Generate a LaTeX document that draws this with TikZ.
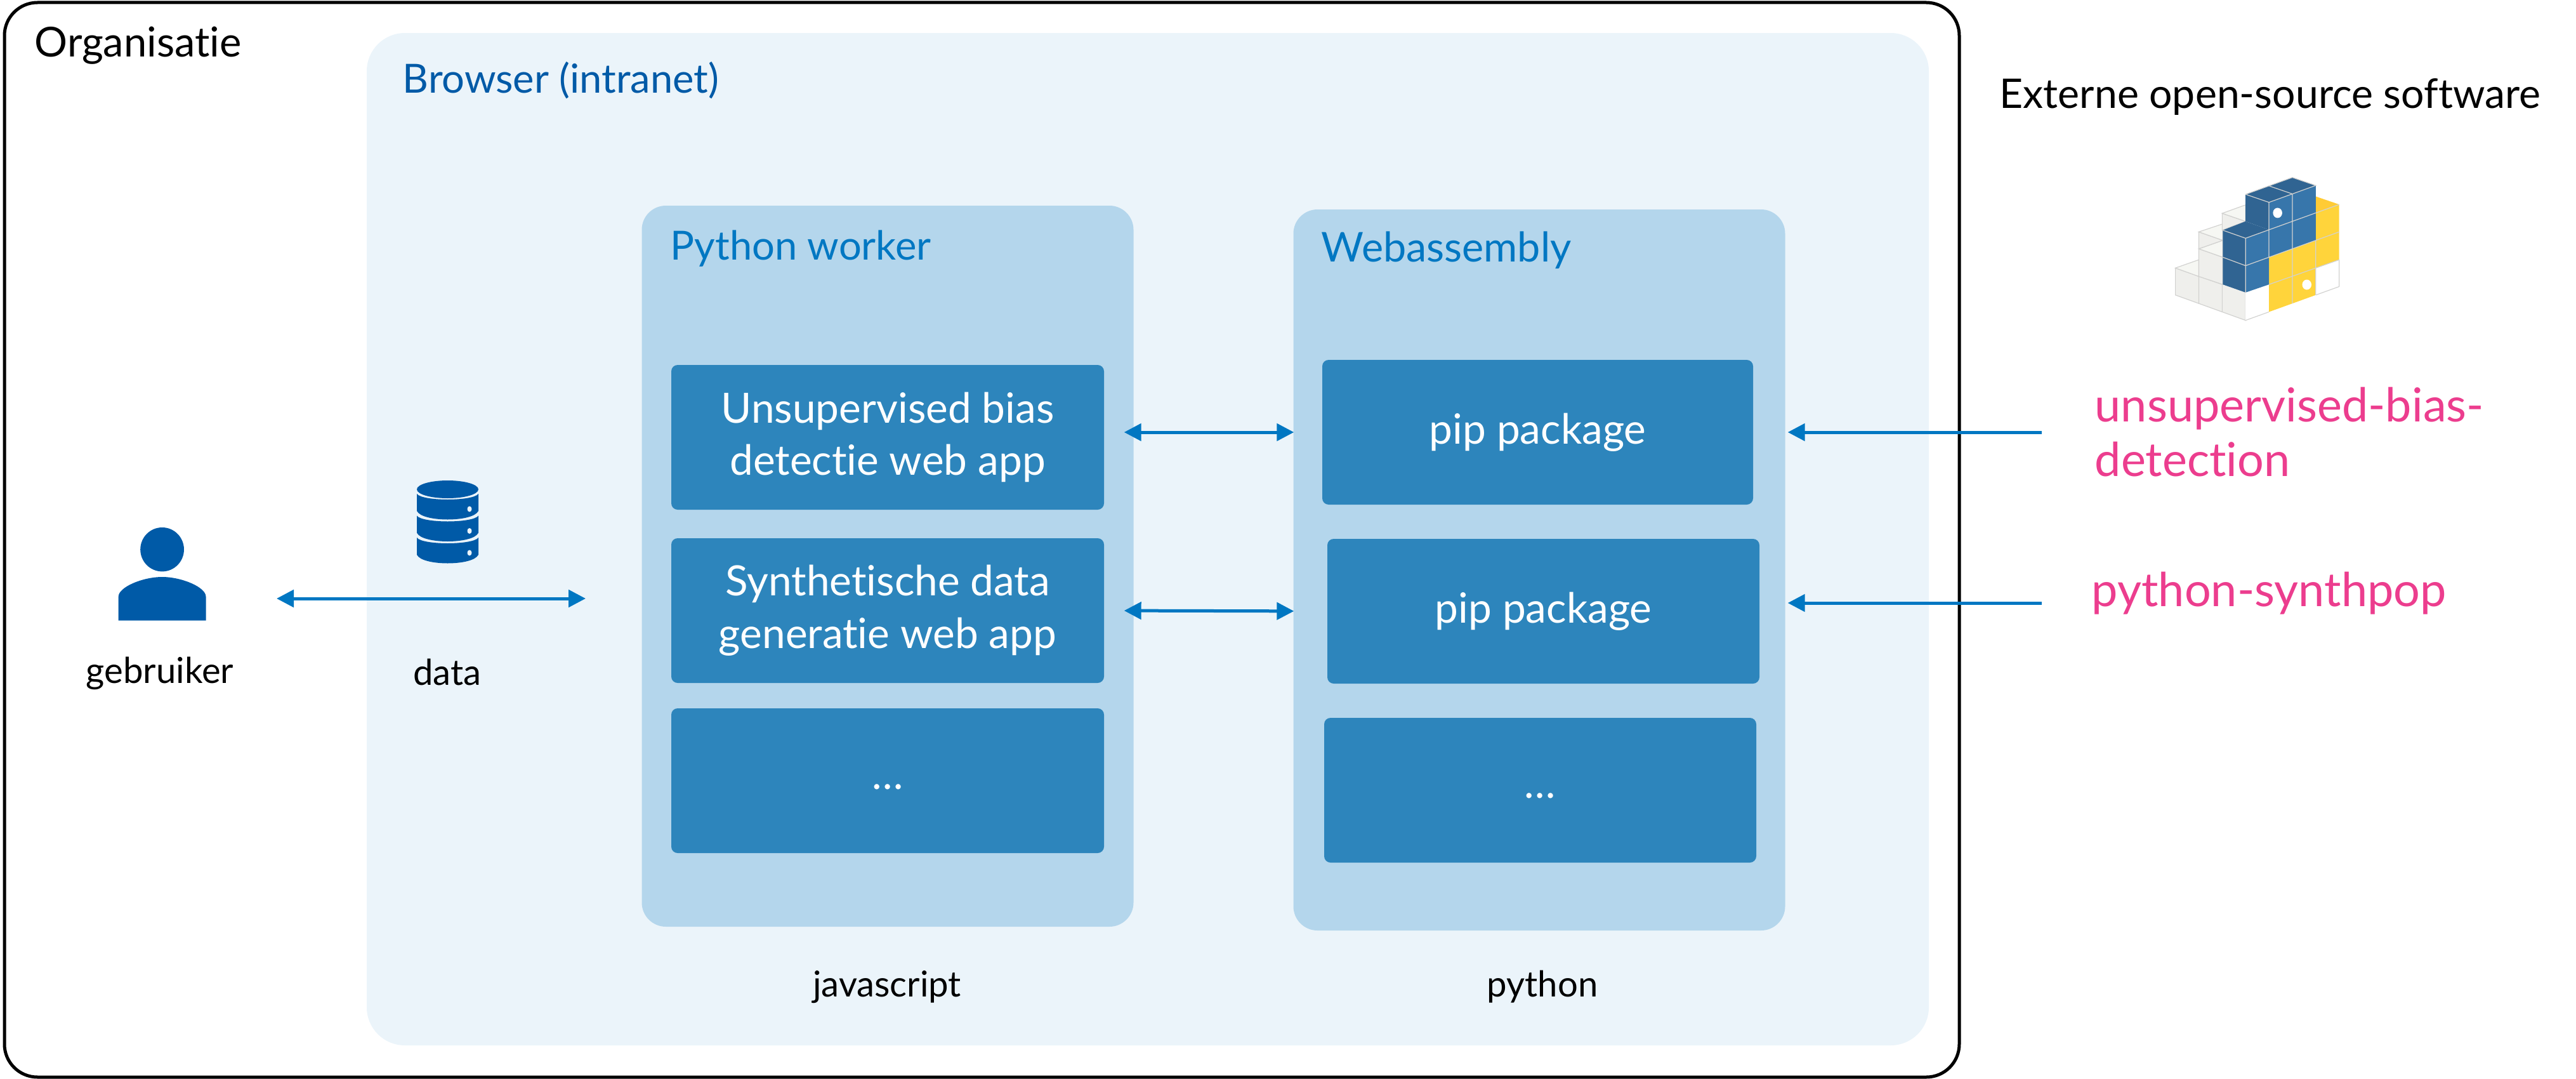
\documentclass[tikz,border=0pt]{standalone}
\usepackage{fontspec}
\setmainfont{Lato}[Ligatures=NoCommon]
\usepackage{xcolor}
\usetikzlibrary{
    arrows.meta,
    positioning
}
\definecolor{browserfill}{HTML}{EBF4FA}
\definecolor{panelfill}{HTML}{B4D6EC}
\definecolor{cellfill}{HTML}{2D85BC}
\definecolor{flowblue}{HTML}{0077C2}
\definecolor{iconblue}{HTML}{005AA7}
\definecolor{pinktext}{HTML}{EC3D8E}
\definecolor{cubeline}{HTML}{D2D2D0}
\definecolor{cubeside}{HTML}{EFEFEC}
\definecolor{cubetop}{HTML}{F6F7F3}
\definecolor{pydark}{HTML}{306492}
\definecolor{pyblue}{HTML}{3776AB}
\definecolor{pyyellow}{HTML}{FFD43B}
\tikzset{
    panel/.style={fill=panelfill, rounded corners=.38cm, minimum width=7.75cm, minimum height=11.36cm, inner sep=0},
    cell/.style={fill=cellfill, rounded corners=.1cm, minimum width=6.82cm, minimum height=2.28cm, inner sep=0, text=white, align=center, font=\fontsize{18.7}{23.5}\selectfont},
    caption/.style={inner sep=0, font=\fontsize{16}{19}\selectfont},
    heading/.style={inner sep=0, anchor=west, font=\fontsize{18}{22}\selectfont},
    pinklabel/.style={inner sep=0, anchor=west, align=left, text=pinktext, font=\fontsize{21}{24.5}\selectfont},
    flow/.style={draw=flowblue, line width=.05cm, -{Triangle[length=.27cm, width=.27cm]}},
    biflow/.style={flow, {Triangle[length=.27cm, width=.27cm]}-{Triangle[length=.27cm, width=.27cm]}},
    cube/.style={draw=cubeline, line width=.012cm}
}
\begin{document}
\begin{tikzpicture}[x=1cm, y=-1cm]
    \useasboundingbox (0, 0) rectangle (40.6, 17);
    \draw[line width=.05cm, rounded corners=.52cm] (.07, .04) rectangle (30.88, 16.97);
    \node[heading, font=\fontsize{18.5}{22}\selectfont] (organisatie) at (.54, .72) {Organisatie};
    \fill[browserfill, rounded corners=.6cm] (5.78, .52) rectangle (30.4, 16.47);

    \node[heading, text=iconblue] (browser) at (6.34, 1.27) {Browser (intranet)};

    \node[panel] (worker) at (13.99, 8.92) {};
    \node[panel] (wasm) at (24.26, 8.98) {};
    \node[heading, text=flowblue] (workertitle) at (10.56, 3.92) {Python worker};
    \node[heading, text=flowblue, font=\fontsize{18.4}{22}\selectfont] (wasmtitle) at (20.82, 3.94) {Webassembly};

    \node[cell] (app1) at (13.99, 6.89) {Unsupervised bias\\detectie web app};
    \node[cell] (app2) at (13.99, 9.62) {Synthetische data\\generatie web app};
    \node[cell] (app3) at (13.99, 12.3) {\raisebox{-.28cm}{\dots}};

    \node[cell, minimum width=6.79cm] (pip1) at (24.235, 6.81) {pip package};
    \node[cell, minimum width=6.81cm] (pip2) at (24.325, 9.63) {pip package};
    \node[cell, minimum width=6.81cm] (pip3) at (24.275, 12.45) {\raisebox{-.26cm}{\dots}};

    \node[caption] (javascript) at (13.98, 15.55) {javascript};
    \node[caption] (python) at (24.31, 15.55) {python};
    \node[caption] (gebruiker) at (2.52, 10.61) {gebruiker};
    \node[caption] (data) at (7.05, 10.59) {data};

    \node[heading, font=\fontsize{18.3}{22}\selectfont] (externe) at (31.51, 1.53) {Externe open-source software};
    \node[pinklabel] (unsupervised) at (33.01, 6.81) {unsupervised-bias-\\detection};
    \node[pinklabel] (synthpop) at (32.96, 9.35) {python-synthpop};

    \begin{scope}[iconblue]
        \fill (2.556, 8.657) ellipse (.344 and .347);
        \fill (1.867, 9.777) -- (1.867, 9.4) .. controls (1.867, 9.25) and (2.25, 9.09) .. (2.556, 9.09)
            .. controls (2.862, 9.09) and (3.245, 9.25) .. (3.245, 9.4) -- (3.245, 9.777) -- cycle;
        \fill (7.055, 7.71) ellipse (.485 and .14);
        \foreach \i in {0,1,2} {
            \begin{scope}[shift={(7.055, 7.78 + .345*\i)}]
                \fill (-.485, 0) .. controls (-.4, .12) and (.4, .12) .. (.485, 0)
                    -- (.485, .27) .. controls (.4, .45) and (-.4, .45) .. (-.485, .27) -- cycle;
                \fill[browserfill] (.345, .24) ellipse (.035 and .045);
            \end{scope}
        }
    \end{scope}

    \begin{scope}[shift={(33, .8)}, x=.004847cm, y=-.003333cm]
        \fill[cubeside] (265, 1029) -- (265, 1157) -- (493, 1277) -- (493, 1145) -- (341, 1069) -- cycle;
        \draw[cube] (265, 1029) -- (265, 1157) -- (493, 1277) -- (493, 1145);
        \draw[cube] (265, 1029) -- (417, 1107) (341, 1069) -- (341, 1197) (417, 1107) -- (417, 1237);
        \draw[cube, fill=cubetop] (265, 1029) -- (341, 990) -- (341, 1069) -- cycle;
        \draw[cube, fill=cubeside] (341, 938) -- (341, 1069) -- (419, 1107) -- (419, 978) -- cycle;
        \draw[cube, fill=cubetop] (341, 938) -- (419, 898) -- (419, 978) -- cycle;
        \draw[cube, fill=cubeside] (341, 858) -- (419, 898) -- (341, 938) -- cycle;
        \draw[cube, fill=cubetop] (341, 858) -- (419, 820) -- (419, 898) -- cycle;
        \draw[cube, fill=cubeside] (417, 770) -- (493, 808) -- (417, 850) -- cycle;
        \draw[cube, fill=cubetop] (417, 770) -- (493, 730) -- (493, 808) -- cycle;

        \fill[white] (493, 1145) -- (569, 1107) -- (569, 1237) -- (493, 1277) -- cycle;
        \fill[white] (721, 1030) -- (797, 990) -- (797, 1117) -- (721, 1157) -- cycle;
        \draw[cube] (493, 1277) -- (569, 1237) (721, 1157) -- (797, 1117) -- (797, 990);

        \fill[pyyellow] (569, 978) -- (721, 898) -- (721, 768) -- (797, 728) -- (797, 990)
            -- (721, 1030) -- (721, 1157) -- (569, 1237) -- cycle;
        \fill[pyyellow!90!orange] (721, 690) -- (797, 728) -- (721, 768) -- cycle;
        \draw[cube] (721, 898) -- (797, 858) (645, 938) -- (645, 1197) (721, 898) -- (721, 1157)
            (569, 1107) -- (797, 990) (721, 768) -- (797, 728);

        \fill[pydark] (493, 680) -- (645, 600) -- (721, 638) -- (569, 718) -- (569, 848) -- (493, 808) -- cycle;
        \fill[pydark] (419, 850) -- (493, 808) -- (569, 848) -- (493, 888) -- (493, 1145) -- (419, 1107) -- cycle;
        \fill[pyblue] (569, 718) -- (721, 638) -- (721, 898) -- (569, 978) -- (569, 1107) -- (493, 1145) -- (493, 888) -- (569, 848) -- cycle;
        \draw[cube] (493, 680) -- (569, 718) -- (721, 638) -- (645, 600) -- (493, 680)
            (569, 640) -- (645, 678) -- (645, 938)
            (569, 718) -- (569, 978)
            (419, 850) -- (493, 888) -- (721, 768)
            (493, 888) -- (493, 1145)
            (419, 978) -- (493, 1018) -- (721, 898);
        \fill[white] (597, 768) ellipse (15 and 24);
        \fill[white] (692, 1108) ellipse (15 and 24);
    \end{scope}

    \coordinate (datastart) at (4.36, 9.43);
    \coordinate (dataend) at (9.23, 9.43);
    \coordinate (synthstart) at (32.18, 9.5);
    \draw[biflow] (datastart) -- (dataend);
    \draw[biflow, shorten <=.31cm, shorten >=.44cm] (app1.east |- pip1.west) -- (pip1.west);
    \draw[biflow, shorten <=.31cm, shorten >=.52cm] (app2.east) -- (pip2.west);
    \draw[flow, shorten <=.83cm, shorten >=.54cm] (unsupervised.west |- pip1.east) -- (pip1.east);
    \draw[flow, shorten >=.44cm] (synthstart) -- (pip2.east |- synthstart);
\end{tikzpicture}
\end{document}
